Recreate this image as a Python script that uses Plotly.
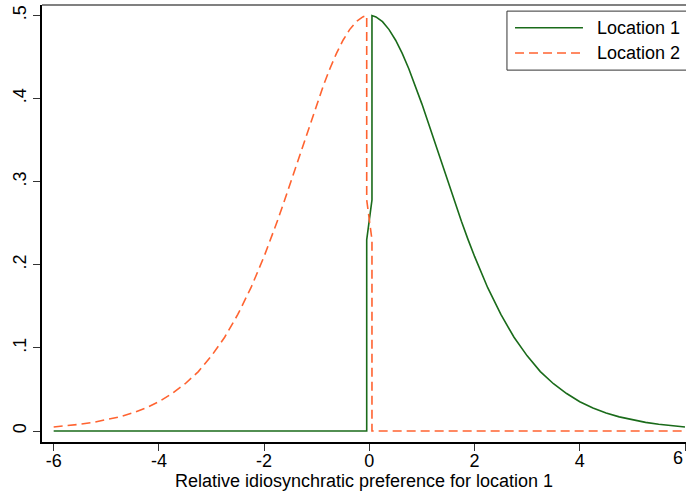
import plotly.graph_objects as go

# Location 1 (density)
x1 = [-6.0, -0.05, -0.05, 0.05, 0.05, 0.125, 0.25, 0.375, 0.5, 0.625, 0.75, 0.875, 1.0, 1.125,
      1.25, 1.375, 1.5, 1.625, 1.75, 1.875, 2.0, 2.25, 2.5, 2.75, 3.0, 3.25, 3.5, 3.75, 4.0,
      4.25, 4.5, 4.75, 5.0, 5.25, 5.5, 5.75, 6.0]
y1 = [0.0, 0.0, 0.23, 0.278, 0.4997, 0.4981, 0.4923, 0.4828, 0.4700, 0.4542, 0.4358, 0.4153,
      0.3932, 0.3700, 0.3462, 0.3222, 0.2983, 0.2749, 0.2523, 0.2305, 0.2100, 0.1724, 0.1402,
      0.1128, 0.0904, 0.0715, 0.0569, 0.0451, 0.0353, 0.0277, 0.0217, 0.0170, 0.0133, 0.0104,
      0.0081, 0.0063, 0.0049]

# Location 2 (mirror image)
x2 = [-6.0, -5.75, -5.5, -5.25, -5.0, -4.75, -4.5, -4.25, -4.0, -3.75, -3.5, -3.25, -3.0,
      -2.75, -2.5, -2.25, -2.0, -1.875, -1.75, -1.625, -1.5, -1.375, -1.25, -1.125, -1.0,
      -0.875, -0.75, -0.625, -0.5, -0.375, -0.25, -0.125, -0.05, -0.05, 0.05, 0.05, 6.0]
y2 = [0.0049, 0.0063, 0.0081, 0.0104, 0.0133, 0.0170, 0.0217, 0.0277, 0.0353, 0.0451, 0.0569,
      0.0715, 0.0904, 0.1128, 0.1402, 0.1724, 0.2100, 0.2305, 0.2523, 0.2749, 0.2983, 0.3222,
      0.3462, 0.3700, 0.3932, 0.4153, 0.4358, 0.4542, 0.4700, 0.4828, 0.4923, 0.4981, 0.4997,
      0.278, 0.23, 0.0, 0.0]

xticks = [-6, -4, -2, 0, 2, 4, 6]
xticklabels = ["-6", "-4", "-2", "0", "2", "4", "6"]
yticks = [0, 0.1, 0.2, 0.3, 0.4, 0.5]
yticklabels = ["0", ".1", ".2", ".3", ".4", ".5"]
names = ["Location 1", "Location 2"]

FONT = "Liberation Sans, Arial, sans-serif"
GREEN = "#1a6b1a"
ORANGE = "#ff6330"
DASH = "9px,5px"

fig = go.Figure()
fig.add_trace(go.Scatter(x=x1, y=y1, mode="lines", name=names[0], showlegend=False,
                         line=dict(color=GREEN, width=1.6)))
fig.add_trace(go.Scatter(x=x2, y=y2, mode="lines", name=names[1], showlegend=False,
                         line=dict(color=ORANGE, width=1.6, dash=DASH)))

# last tick label sits on the right edge; drawn separately below so it stays visible
shown_ticktext = xticklabels[:-1] + [""]

fig.update_layout(
    width=686, height=491,
    margin=dict(l=42, r=0, t=5, b=49),
    paper_bgcolor="white", plot_bgcolor="white",
    font=dict(family=FONT, size=18, color="black"),
    showlegend=False,
    xaxis=dict(range=[-6.222, 6.019], tickvals=xticks, ticktext=shown_ticktext,
               showgrid=False, zeroline=False, showline=True, linecolor="black", linewidth=1.5,
               ticks="outside", ticklen=7, tickcolor="#333333", tickwidth=1,
               ticklabelstandoff=-5,
               tickfont=dict(size=18, family=FONT),
               title=dict(text="Relative idiosynchratic preference for location 1",
                          font=dict(size=18, family=FONT), standoff=0)),
    yaxis=dict(range=[-0.0132, 0.5124], tickvals=yticks, ticktext=yticklabels,
               showgrid=False, zeroline=False, showline=True, linecolor="black", linewidth=1.5,
               ticks="outside", ticklen=7, tickcolor="#333333", tickwidth=1, tickangle=-90,
               tickfont=dict(size=18, family=FONT)),
)
fig.add_annotation(xref="x", yref="paper", x=xticks[-1], y=-0.0373, text=xticklabels[-1],
                   showarrow=False, xanchor="right", yanchor="middle",
                   font=dict(size=18, family=FONT))

# top border of plot region
fig.add_shape(type="line", xref="paper", yref="paper", x0=0, x1=1, y0=1, y1=1,
              line=dict(color="#808080", width=2))

# manual legend (box runs past right edge as in reference)
fig.add_shape(type="rect", xref="paper", yref="paper", x0=0.722, x1=1.05, y0=0.851, y1=0.986,
              line=dict(color="#333333", width=1), fillcolor="white", layer="above")
legend_y = [0.948, 0.890]
styles = [dict(color=GREEN, width=1.6), dict(color=ORANGE, width=1.6, dash=DASH)]
for nm, ly, st in zip(names, legend_y, styles):
    fig.add_shape(type="line", xref="paper", yref="paper", x0=0.7345, x1=0.840, y0=ly, y1=ly,
                  line=st, layer="above")
    fig.add_annotation(xref="paper", yref="paper", x=0.8587, y=ly, text=nm, showarrow=False,
                       xanchor="left", yanchor="middle", font=dict(size=18, family=FONT))

fig.write_html("out.html")
